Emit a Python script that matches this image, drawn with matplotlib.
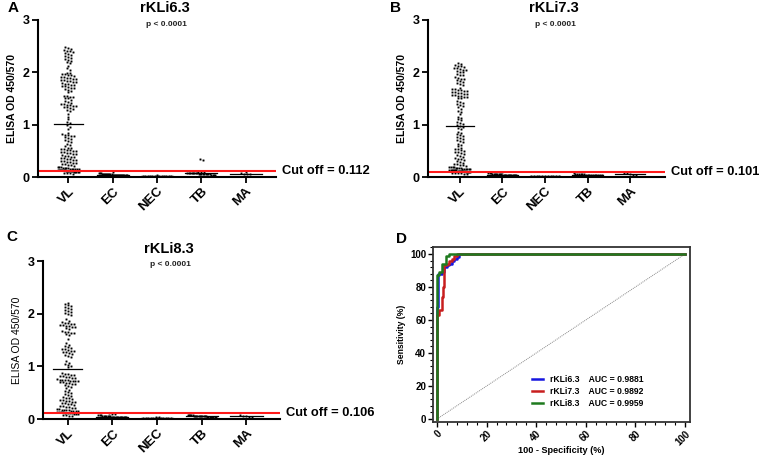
import numpy as np
import matplotlib
matplotlib.use("Agg")
import matplotlib.pyplot as plt
from matplotlib.ticker import MultipleLocator

plt.rcParams['font.family'] = ['Liberation Sans', 'DejaVu Sans']

categories = ["VL", "EC", "NEC", "TB", "MA"]

# ---- Panel A: rKLi6.3 ----
a_vl = [2.48, 2.46, 2.45, 2.43, 2.41, 2.40, 2.38, 2.37, 2.35, 2.33, 2.31, 2.30, 2.28, 2.26, 2.24, 2.22, 2.20, 2.18,
        2.12, 2.08, 2.04,
        1.99, 1.98, 1.97, 1.96, 1.95, 1.94, 1.93, 1.92, 1.91, 1.90, 1.89, 1.88, 1.87, 1.86, 1.85, 1.84, 1.83, 1.82, 1.81, 1.80,
        1.78, 1.77, 1.76, 1.75, 1.74, 1.73, 1.72, 1.71, 1.70, 1.68, 1.66, 1.64, 1.62,
        1.55, 1.54, 1.53, 1.52, 1.51, 1.50, 1.48, 1.46, 1.44, 1.42, 1.40, 1.39, 1.38, 1.37, 1.36, 1.35, 1.34, 1.33,
        1.32, 1.30, 1.28, 1.26,
        1.20, 1.15, 1.10, 1.06, 1.03, 1.00, 0.96, 0.92,
        0.84, 0.82, 0.81, 0.80, 0.79, 0.78, 0.76, 0.74, 0.72, 0.70, 0.68, 0.66, 0.64, 0.62, 0.60,
        0.56, 0.55, 0.54, 0.53, 0.52, 0.51, 0.50, 0.49, 0.48, 0.47, 0.46, 0.45, 0.44, 0.43, 0.42, 0.41, 0.40, 0.39,
        0.38, 0.37, 0.36, 0.35, 0.34, 0.33, 0.32, 0.31, 0.30, 0.29, 0.28, 0.27, 0.26, 0.25, 0.24, 0.23, 0.22, 0.21,
        0.20, 0.19, 0.19, 0.18, 0.18, 0.17, 0.17, 0.16, 0.16, 0.16, 0.15, 0.15, 0.15, 0.14, 0.14, 0.14, 0.13, 0.13,
        0.13, 0.13, 0.12, 0.12, 0.12, 0.12, 0.11, 0.11, 0.11, 0.10, 0.10, 0.10, 0.09, 0.09, 0.08, 0.08, 0.07, 0.06]
a_ec = [0.10, 0.08, 0.07, 0.07, 0.06, 0.06, 0.06, 0.06, 0.05, 0.05, 0.05, 0.05, 0.05, 0.05, 0.04, 0.04,
        0.04, 0.04, 0.04, 0.04, 0.04, 0.03, 0.03, 0.03, 0.03, 0.03, 0.03, 0.03, 0.02, 0.02, 0.02, 0.02]
a_nec = [0.03, 0.02, 0.02, 0.02, 0.02, 0.02, 0.02, 0.02, 0.02, 0.02, 0.01, 0.01, 0.01, 0.01]
a_tb = [0.35, 0.32, 0.10, 0.09, 0.09, 0.08, 0.08, 0.08, 0.08, 0.07, 0.07, 0.07, 0.07, 0.06, 0.06, 0.06,
        0.06, 0.06, 0.05, 0.05, 0.05, 0.05, 0.04, 0.04, 0.04, 0.03]
a_ma = [0.09, 0.08, 0.06, 0.05, 0.05]
a_means = [1.02, 0.045, 0.02, 0.075, 0.065]
a_cutoff = 0.112

# ---- Panel B: rKLi7.3 ----
b_vl = [2.17, 2.16, 2.14, 2.13, 2.12, 2.10, 2.09, 2.08, 2.06, 2.05, 2.04, 2.02, 2.01, 2.00,
        1.97, 1.95, 1.94, 1.92, 1.90, 1.88, 1.87, 1.85, 1.83, 1.81, 1.79, 1.77, 1.75,
        1.70, 1.69, 1.68, 1.67, 1.66, 1.65, 1.64, 1.63, 1.62, 1.61, 1.60, 1.59, 1.58, 1.57, 1.56, 1.55, 1.54,
        1.53, 1.52, 1.51, 1.50,
        1.45, 1.43, 1.41, 1.39, 1.37, 1.35, 1.33, 1.30, 1.27, 1.24, 1.21,
        1.15, 1.12, 1.10, 1.08, 1.06, 1.04, 1.02, 1.00, 0.98, 0.96, 0.94, 0.91,
        0.86, 0.84, 0.82, 0.80, 0.78, 0.76, 0.74, 0.72, 0.70, 0.68, 0.66, 0.64, 0.62, 0.60,
        0.56, 0.54, 0.53, 0.52, 0.50, 0.48, 0.47, 0.46, 0.44, 0.42, 0.40, 0.38, 0.36, 0.35, 0.34, 0.32, 0.30, 0.28,
        0.26, 0.25, 0.24, 0.23, 0.22, 0.21, 0.20, 0.20, 0.19, 0.19, 0.18, 0.18, 0.17, 0.17, 0.16, 0.16, 0.16,
        0.15, 0.15, 0.15, 0.14, 0.14, 0.14, 0.13, 0.13, 0.13, 0.13, 0.12, 0.12, 0.12, 0.12, 0.11, 0.11, 0.11,
        0.10, 0.10, 0.10, 0.09, 0.09, 0.08, 0.08, 0.07, 0.07, 0.06, 0.05]
b_ec = [0.10, 0.08, 0.07, 0.07, 0.06, 0.06, 0.06, 0.05, 0.05, 0.05, 0.05, 0.05, 0.04, 0.04, 0.04, 0.04,
        0.04, 0.04, 0.03, 0.03, 0.03, 0.03, 0.03, 0.03, 0.02, 0.02, 0.02, 0.02]
b_nec = [0.02, 0.02, 0.02, 0.02, 0.02, 0.01, 0.01, 0.01, 0.01, 0.01, 0.01]
b_tb = [0.07, 0.06, 0.06, 0.05, 0.05, 0.05, 0.05, 0.04, 0.04, 0.04, 0.04, 0.04, 0.03, 0.03, 0.03, 0.03,
        0.03, 0.02, 0.02]
b_ma = [0.08, 0.07, 0.05, 0.04, 0.04]
b_means = [0.97, 0.045, 0.015, 0.04, 0.06]
b_cutoff = 0.101

# ---- Panel C: rKLi8.3 ----
c_vl = [2.20, 2.18, 2.16, 2.15, 2.13, 2.11, 2.09, 2.07, 2.05, 2.03, 2.01, 1.99, 1.97,
        1.90, 1.86, 1.84, 1.83, 1.82, 1.81, 1.80, 1.79, 1.78, 1.77, 1.76, 1.75, 1.74, 1.72, 1.70, 1.68, 1.66,
        1.65, 1.64, 1.63, 1.62, 1.60,
        1.52, 1.45, 1.40, 1.38, 1.36, 1.34, 1.33, 1.32, 1.31, 1.30, 1.29, 1.28, 1.27, 1.25, 1.23, 1.21, 1.19, 1.17,
        1.10, 1.07, 1.05, 1.03, 1.01, 0.99,
        0.88, 0.86, 0.85, 0.84, 0.83, 0.82, 0.81, 0.80, 0.79, 0.78, 0.77, 0.76, 0.75, 0.75, 0.74, 0.74, 0.73,
        0.73, 0.72, 0.72, 0.71, 0.70, 0.69, 0.68, 0.67, 0.66, 0.64, 0.62, 0.60, 0.58,
        0.55, 0.53, 0.51, 0.49, 0.47, 0.45, 0.43, 0.41, 0.40, 0.39, 0.38, 0.37, 0.36, 0.35, 0.34, 0.33, 0.32,
        0.31, 0.30, 0.29, 0.28,
        0.26, 0.25, 0.24, 0.23, 0.22, 0.21, 0.20, 0.19, 0.19, 0.18, 0.18, 0.17, 0.17, 0.16, 0.16, 0.15, 0.15,
        0.14, 0.14, 0.13, 0.13, 0.12, 0.12, 0.11, 0.11, 0.10, 0.10, 0.09, 0.08, 0.07, 0.06, 0.05]
c_ec = [0.12, 0.10, 0.09, 0.08, 0.07, 0.07, 0.06, 0.06, 0.06, 0.05, 0.05, 0.05, 0.05, 0.04, 0.04, 0.04,
        0.04, 0.04, 0.03, 0.03, 0.03, 0.03, 0.03, 0.03, 0.03, 0.02, 0.02, 0.02, 0.02, 0.02]
c_nec = [0.03, 0.03, 0.02, 0.02, 0.02, 0.02, 0.02, 0.02, 0.02, 0.02, 0.02, 0.02, 0.01, 0.01]
c_tb = [0.08, 0.08, 0.07, 0.07, 0.07, 0.06, 0.06, 0.06, 0.06, 0.06, 0.05, 0.05, 0.05, 0.05, 0.05, 0.05,
        0.04, 0.04, 0.04, 0.04, 0.04, 0.03, 0.03, 0.03]
c_ma = [0.07, 0.06, 0.05, 0.04, 0.03]
c_means = [0.95, 0.04, 0.02, 0.05, 0.05]
c_cutoff = 0.106

titles = ["rKLi6.3", "rKLi7.3", "rKLi8.3"]
pvalue_text = "p < 0.0001"

# ---- Panel D: ROC ----
roc_blue_fpr = [0, 0, 0.5, 0.5, 2, 2, 3, 3, 4, 4, 5, 5, 6, 6, 7, 7, 8, 8, 9, 9, 100]
roc_blue_tpr = [0, 68, 68, 88, 88, 89, 89, 92, 92, 93, 93, 94, 94, 96, 96, 97, 97, 98, 98, 100, 100]
roc_red_fpr = [0, 0, 1, 1, 2, 2, 2.5, 2.5, 3, 3, 4, 4, 5, 5, 6, 6, 7, 7, 8, 8, 100]
roc_red_tpr = [0, 63, 63, 66, 66, 74, 74, 80, 80, 93, 93, 94, 94, 96, 96, 97, 97, 99, 99, 100, 100]
roc_green_fpr = [0, 0, 1, 1, 2, 2, 3.5, 3.5, 5, 5, 100]
roc_green_tpr = [0, 87, 87, 89, 89, 94, 94, 99, 99, 100, 100]
roc_labels = ["rKLi6.3    AUC = 0.9881", "rKLi7.3    AUC = 0.9892", "rKLi8.3    AUC = 0.9959"]

W, H = 760, 458
fig = plt.figure(figsize=(W / 100, H / 100), dpi=100)


def px_axes(l, r, t, b):
    return fig.add_axes([l / W, 1 - b / H, (r - l) / W, (b - t) / H])


def row_offsets(vals, ypx_per_unit, d, maxw):
    """GraphPad-like scatter: bin values into rows, spread each row horizontally."""
    vals = np.asarray(vals, float)
    rows = np.round(vals * ypx_per_unit / d).astype(int)
    offs = np.zeros(len(vals))
    for rv in np.unique(rows):
        idx = np.where(rows == rv)[0]
        n = len(idx)
        if n == 1:
            continue
        s = min(d, maxw / (n - 1))
        offs[idx] = (np.arange(n) - (n - 1) / 2.0) * s
    return offs


def dot_panel(box, groups, means, cutoff, title, xlim, ylab_weight='bold'):
    l, r, t, b = box
    ax = px_axes(l, r, t, b)
    ax.set_xlim(*xlim)
    ax.set_ylim(0, 3)
    ypx = (b - t) / 3.0
    xpx = (r - l) / (xlim[1] - xlim[0])
    d = 3.0
    for gi, vals in enumerate(groups):
        vals = np.asarray(vals, float)
        maxw = 21.0 if gi == 0 else 28.0
        offs = row_offsets(vals, ypx, d, maxw)
        ax.plot(gi + offs / xpx, vals, ls='none', marker='s', ms=1.1, color='black',
                mec='black', mew=0.2, clip_on=False)
        hw = 0.33 if gi == 0 else 0.36
        ax.plot([gi - hw, gi + hw], [means[gi], means[gi]], color='black', lw=0.9)
    ax.axhline(cutoff, color='#ff1a1a', lw=1.5)
    for s in ['top', 'right']:
        ax.spines[s].set_visible(False)
    for s in ['left', 'bottom']:
        ax.spines[s].set_linewidth(1.5)
    ax.set_yticks([0, 1, 2, 3])
    ax.set_xticks(range(len(categories)))
    ax.set_xticklabels(categories, rotation=45, ha='right', rotation_mode='anchor',
                       fontsize=9.5, fontweight='bold')
    ax.tick_params(axis='x', length=4, width=1.3, pad=2)
    ax.tick_params(axis='y', length=4, width=1.3, labelsize=9, pad=2)
    for lab in ax.get_yticklabels():
        lab.set_fontweight('bold')
    ax.set_ylabel("ELISA OD 450/570", fontsize=7.5, fontweight=ylab_weight, labelpad=4)
    ax.annotate(f"Cut off = {cutoff:.3f}", xy=(1, cutoff), xycoords=('axes fraction', 'data'),
                xytext=(4.5, 0), textcoords='offset points',
                ha='left', va='center', fontsize=9.3, fontweight='bold')
    cx = (l + r) / 2 / W + 0.01
    fig.text(cx, 1 - (t - 12) / H, title, ha='center', va='center', fontsize=10.5, fontweight='bold')
    fig.text(cx + 0.002, 1 - (t + 4) / H, pvalue_text, ha='center', va='center', fontsize=6,
             fontweight='bold', color='#222222')
    return ax


dot_panel((38, 276, 20, 177), [a_vl, a_ec, a_nec, a_tb, a_ma], a_means, a_cutoff, titles[0], (-0.68, 4.68))
dot_panel((428, 665, 20, 177), [b_vl, b_ec, b_nec, b_tb, b_ma], b_means, b_cutoff, titles[1], (-0.75, 4.82))
dot_panel((43, 280, 261, 419), [c_vl, c_ec, c_nec, c_tb, c_ma], c_means, c_cutoff, titles[2], (-0.55, 4.75),
          ylab_weight='normal')

fig.text(8 / W, 1 - 8 / H, "A", fontsize=11, fontweight='bold', va='center', ha='left')
fig.text(390 / W, 1 - 8 / H, "B", fontsize=11, fontweight='bold', va='center', ha='left')
fig.text(6 / W, 1 - 237 / H, "C", fontsize=11, fontweight='bold', va='center', ha='left')
fig.text(396 / W, 1 - 239 / H, "D", fontsize=11, fontweight='bold', va='center', ha='left')

# ROC panel
axd = px_axes(433, 690, 247, 422)
axd.set_xlim(-1.6, 102)
axd.set_ylim(-1.8, 104.2)
axd.plot([0, 100], [0, 100], color='#888888', lw=0.7, ls=(0, (1, 1)))
axd.plot(roc_blue_fpr, roc_blue_tpr, color='#1515e0', lw=1.8, label=roc_labels[0])
axd.plot(roc_red_fpr, roc_red_tpr, color='#c81e1e', lw=1.8, label=roc_labels[1])
axd.plot(roc_green_fpr, roc_green_tpr, color='#1e7a1e', lw=1.8, label=roc_labels[2])
for s in axd.spines.values():
    s.set_linewidth(1.3)
    s.set_color('#333333')
axd.set_xticks([0, 20, 40, 60, 80, 100])
axd.set_yticks([0, 20, 40, 60, 80, 100])
axd.xaxis.set_minor_locator(MultipleLocator(4))
axd.yaxis.set_minor_locator(MultipleLocator(4))
axd.tick_params(axis='both', which='major', length=3.5, width=1.0, labelsize=7.0, pad=1.5)
axd.tick_params(axis='both', which='minor', length=2, width=0.8)
plt.setp(axd.get_xticklabels(), rotation=45, ha='right', rotation_mode='anchor', fontweight='bold')
plt.setp(axd.get_yticklabels(), fontweight='bold')
axd.set_xlabel("100 - Specificity (%)", fontsize=6.6, fontweight='bold')
axd.xaxis.set_label_coords(0.5, -0.135)
axd.set_ylabel("Sensitivity (%)", fontsize=6.2, fontweight='bold', labelpad=3)
leg = axd.legend(loc='upper left', bbox_to_anchor=(0.385, 0.27), frameon=False,
                 prop={'weight': 'bold', 'size': 6.2}, handlelength=1.3, labelspacing=0.35,
                 handletextpad=0.8, borderpad=0, borderaxespad=0)

fig.savefig("out.png", dpi=100)
